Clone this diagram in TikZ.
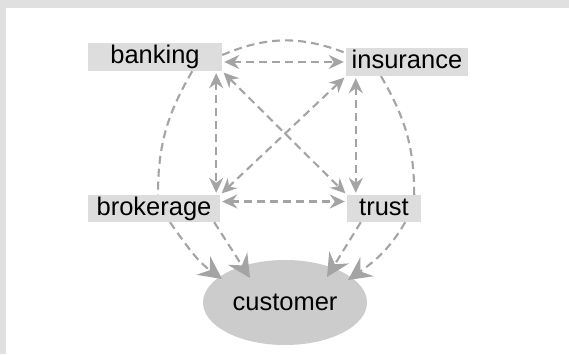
\documentclass[tikz,border=0pt]{standalone}
\usepackage{fontspec}
\setmainfont{Liberation Sans}
\usepackage{tikz}
\usetikzlibrary{arrows.meta}
\usetikzlibrary{shapes.geometric}

\definecolor{linkgray}{HTML}{A4A4A4}
\definecolor{boxgray}{HTML}{DDDDDD}
\definecolor{ovalgray}{HTML}{CCCCCC}
\definecolor{framegray}{HTML}{E0E0E0}

\tikzset{
    unit/.style={fill=boxgray, inner sep=0pt, minimum height=28pt,
        text height=19.5pt, text depth=5.5pt, font=\fontsize{25.5}{30}\selectfont},
    link/.style={draw=linkgray, line width=2.1pt, dash pattern=on 8pt off 5pt},
    both/.style={link, {Stealth[length=15pt,width=14pt,inset=5pt]}-{Stealth[length=15pt,width=14pt,inset=5pt]},
        shorten <=2pt, shorten >=2pt},
    tocust/.style={link, -{Stealth[length=23pt,width=23pt,inset=8pt]}},
}

\begin{document}
\begin{tikzpicture}[x=1pt,y=1pt]
        % Frame
        \fill[framegray] (0,0) rectangle (569,354);
        \fill[white] (6,0) rectangle (569,346);
        \useasboundingbox (0,0) rectangle (569,354);

        % Units
        \node[unit, minimum width=134pt] (banking) at (155,297) {banking};
        \node[unit, minimum width=122pt] (insurance) at (407,292) {insurance};
        \node[unit, minimum width=132pt, minimum height=27pt] (brokerage) at (154,145.5) {brokerage};
        \node[unit, minimum width=74pt, minimum height=27pt] (trust) at (384,145.5) {trust};
        \node[ellipse, fill=ovalgray, inner sep=0pt, minimum width=164pt, minimum height=85pt,
            font=\fontsize{25.5}{30}\selectfont] (customer) at (285,51.5) {customer};

        % Outer ring
        \draw[link] ([yshift=2pt]banking.east) to[bend left=22] ([yshift=9pt]insurance.west);
        \draw[link] ([xshift=-30pt]banking.south east) to[out=240, in=90] ([xshift=4pt]brokerage.north);
        \draw[link] ([xshift=-26pt]insurance.south) to[out=-60, in=90] ([xshift=-7pt]trust.north east);
        \draw[tocust] ([xshift=16pt]brokerage.south) to[out=-55, in=144] ([shift={(-63pt,23.5pt)}]customer.center);
        \draw[tocust] ([xshift=-16pt]trust.south east) to[out=-120, in=35] ([shift={(63pt,22.5pt)}]customer.center);

        % Straight to customer
        \draw[tocust] ([xshift=-6pt]brokerage.south east) -- ([shift={(-35pt,24.5pt)}]customer.center);
        \draw[tocust] ([xshift=14pt]trust.south west) -- ([shift={(42pt,25.5pt)}]customer.center);

        % Cross links
        \draw[both] (banking.east |- insurance.west) -- (insurance.west);
        \draw[both] ([yshift=7pt]brokerage.east) -- ([yshift=7pt]trust.west);
        \draw[both] ([xshift=-6pt]banking.south east) -- ([xshift=-4pt]brokerage.north east);
        \draw[both] ([xshift=10pt]insurance.south west) -- ([xshift=9pt]trust.north west);
        \draw[both] (banking.south east) -- (trust.north west);
        \draw[both] (insurance.south west) -- (brokerage.north east);
\end{tikzpicture}
\end{document}
